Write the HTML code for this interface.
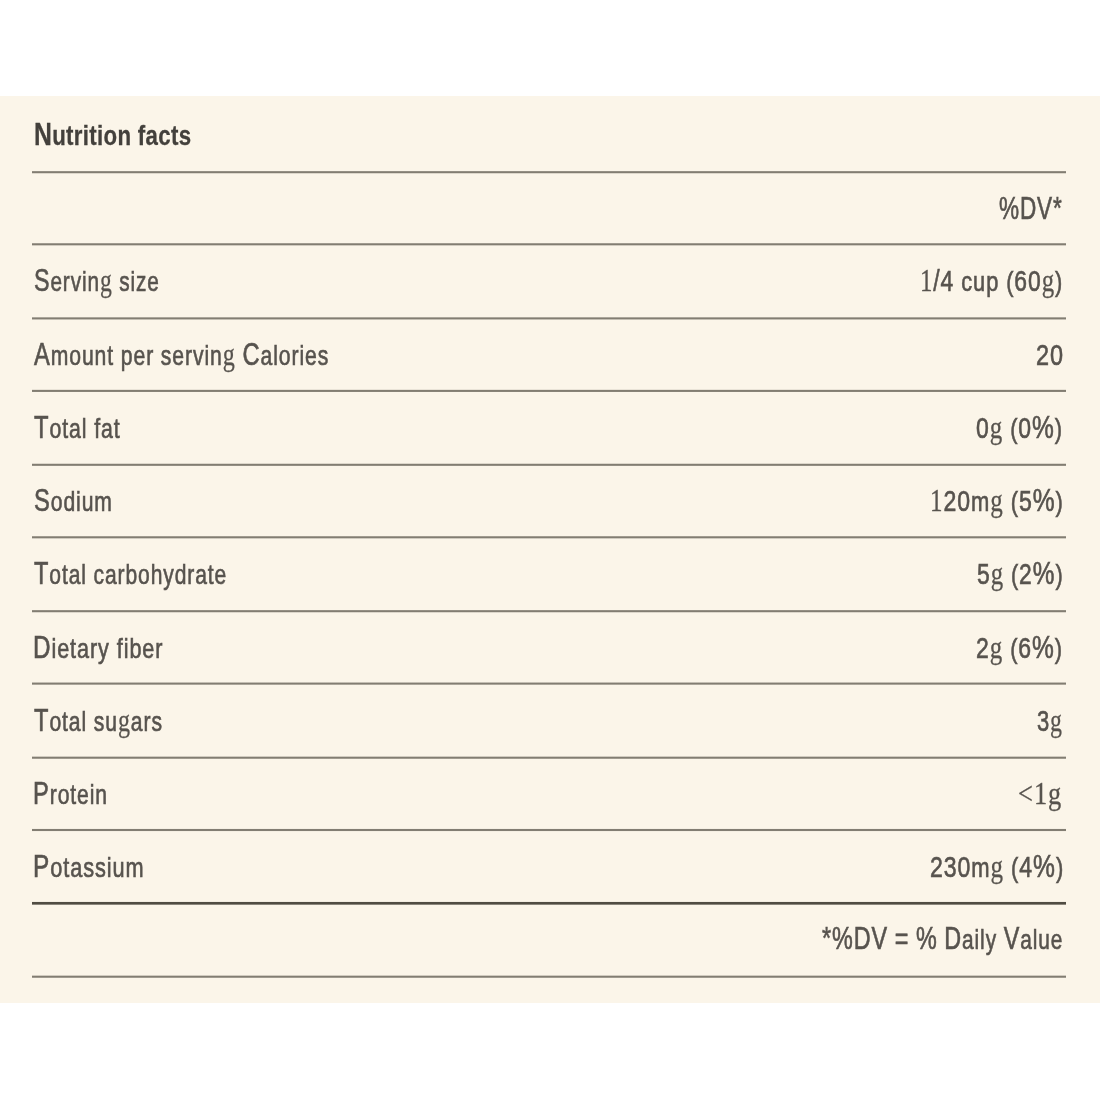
<!DOCTYPE html>
<html lang="en"><head><meta charset="utf-8"><title>Nutrition facts</title>
<style>
html,body{margin:0;padding:0;background:#fff;}
body{width:1100px;height:1100px;position:relative;overflow:hidden;}
.panel{position:absolute;left:0;top:96px;width:1100px;height:907px;background:#fbf5e9;}
.t{position:absolute;white-space:pre;font-family:"Liberation Sans",Arial,sans-serif;font-size:28.1px;line-height:40px;color:#57534e;-webkit-text-stroke:0.65px #57534e;transform-origin:0 0;filter:blur(0.4px);}
.t.b{font-weight:bold;font-size:28.3px;color:#43403c;-webkit-text-stroke:0.3px #43403c;}
.t span{line-height:0;}
.t .c{font-size:31.5px;}
.t .d{font-size:29.5px;}
.t .s{font-family:"Liberation Serif",serif;font-size:32.0px;-webkit-text-stroke-width:0.3px;}
.t.b .s{font-family:"Liberation Sans",Arial,sans-serif;font-size:28.3px;-webkit-text-stroke-width:0.3px;}
.r{position:absolute;left:32px;width:1034px;}
</style></head><body>
<div class="panel"></div>
<div class="r" style="top:171px;height:3px;background:linear-gradient(rgba(130,125,114,0.85) 0px 1px, rgba(130,125,114,1.00) 1px 2px, rgba(130,125,114,0.25) 2px 3px)"></div>
<div class="r" style="top:243px;height:3px;background:linear-gradient(rgba(130,125,114,0.75) 0px 1px, rgba(130,125,114,1.00) 1px 2px, rgba(130,125,114,0.35) 2px 3px)"></div>
<div class="r" style="top:317px;height:3px;background:linear-gradient(rgba(130,125,114,0.65) 0px 1px, rgba(130,125,114,1.00) 1px 2px, rgba(130,125,114,0.45) 2px 3px)"></div>
<div class="r" style="top:389px;height:3px;background:linear-gradient(rgba(130,125,114,0.15) 0px 1px, rgba(130,125,114,1.00) 1px 2px, rgba(130,125,114,0.95) 2px 3px)"></div>
<div class="r" style="top:463px;height:3px;background:linear-gradient(rgba(130,125,114,0.25) 0px 1px, rgba(130,125,114,1.00) 1px 2px, rgba(130,125,114,0.85) 2px 3px)"></div>
<div class="r" style="top:536px;height:3px;background:linear-gradient(rgba(130,125,114,0.75) 0px 1px, rgba(130,125,114,1.00) 1px 2px, rgba(130,125,114,0.35) 2px 3px)"></div>
<div class="r" style="top:610px;height:3px;background:linear-gradient(rgba(130,125,114,0.85) 0px 1px, rgba(130,125,114,1.00) 1px 2px, rgba(130,125,114,0.25) 2px 3px)"></div>
<div class="r" style="top:682px;height:3px;background:linear-gradient(rgba(130,125,114,0.45) 0px 1px, rgba(130,125,114,1.00) 1px 2px, rgba(130,125,114,0.65) 2px 3px)"></div>
<div class="r" style="top:756px;height:3px;background:linear-gradient(rgba(130,125,114,0.35) 0px 1px, rgba(130,125,114,1.00) 1px 2px, rgba(130,125,114,0.75) 2px 3px)"></div>
<div class="r" style="top:828px;height:4px;background:linear-gradient(rgba(130,125,114,0.05) 0px 1px, rgba(130,125,114,1.00) 1px 2px, rgba(130,125,114,1.00) 2px 3px, rgba(130,125,114,0.05) 3px 4px)"></div>
<div class="r" style="top:901px;height:4px;background:linear-gradient(rgba(80,76,66,0.05) 0px 1px, rgba(80,76,66,1.00) 1px 2px, rgba(80,76,66,1.00) 2px 3px, rgba(80,76,66,0.65) 3px 4px)"></div>
<div class="r" style="top:975px;height:3px;background:linear-gradient(rgba(130,125,114,0.35) 0px 1px, rgba(130,125,114,1.00) 1px 2px, rgba(130,125,114,0.75) 2px 3px)"></div>
<div class="t b" style="left:33.83px;top:114.50px;letter-spacing:0.4px;transform:scaleX(0.7864)"><span class="c">N</span>utrition facts</div>
<div class="t" style="left:998.58px;top:189.70px;letter-spacing:1.2px;transform:scaleX(0.7171)"><span class="c">%DV*</span></div>
<div class="t" style="left:33.66px;top:261.60px;letter-spacing:1.2px;transform:scaleX(0.7392)"><span class="c">S</span>ervin<span class="s">g</span> size</div>
<div class="t" style="left:919.77px;top:261.60px;letter-spacing:1.2px;transform:scaleX(0.7754)"><span class="s">1</span><span class="d">/4</span> cup (<span class="d">60</span><span class="s">g</span>)</div>
<div class="t" style="left:34.00px;top:336.00px;letter-spacing:1.2px;transform:scaleX(0.7529)"><span class="c">A</span>mount per servin<span class="s">g</span> <span class="c">C</span>alories</div>
<div class="t" style="left:1036.40px;top:336.00px;letter-spacing:1.2px;transform:scaleX(0.7950)"><span class="d">20</span></div>
<div class="t" style="left:34.00px;top:408.50px;letter-spacing:1.2px;transform:scaleX(0.7570)"><span class="c">T</span>otal fat</div>
<div class="t" style="left:976.42px;top:408.50px;letter-spacing:1.2px;transform:scaleX(0.7791)"><span class="d">0</span><span class="s">g</span> (<span class="d">0</span><span class="c">%</span>)</div>
<div class="t" style="left:33.65px;top:482.40px;letter-spacing:1.2px;transform:scaleX(0.7525)"><span class="c">S</span>odium</div>
<div class="t" style="left:929.56px;top:482.40px;letter-spacing:1.2px;transform:scaleX(0.7817)"><span class="s">1</span><span class="d">20</span>m<span class="s">g</span> (<span class="d">5</span><span class="c">%</span>)</div>
<div class="t" style="left:34.40px;top:554.60px;letter-spacing:1.2px;transform:scaleX(0.7488)"><span class="c">T</span>otal carbohydrate</div>
<div class="t" style="left:976.93px;top:554.60px;letter-spacing:1.2px;transform:scaleX(0.7745)"><span class="d">5</span><span class="s">g</span> (<span class="d">2</span><span class="c">%</span>)</div>
<div class="t" style="left:32.86px;top:628.80px;letter-spacing:1.2px;transform:scaleX(0.7692)"><span class="c">D</span>ietary fiber</div>
<div class="t" style="left:976.42px;top:628.80px;letter-spacing:1.2px;transform:scaleX(0.7791)"><span class="d">2</span><span class="s">g</span> (<span class="d">6</span><span class="c">%</span>)</div>
<div class="t" style="left:34.40px;top:701.50px;letter-spacing:1.2px;transform:scaleX(0.7518)"><span class="c">T</span>otal su<span class="s">g</span>ars</div>
<div class="t" style="left:1036.75px;top:701.50px;letter-spacing:1.2px;transform:scaleX(0.7453)"><span class="d">3</span><span class="s">g</span></div>
<div class="t" style="left:32.90px;top:775.30px;letter-spacing:1.2px;transform:scaleX(0.7521)"><span class="c">P</span>rotein</div>
<div class="t" style="left:1018.28px;top:775.30px;letter-spacing:1.2px;transform:scaleX(0.8249)"><span class="s">&lt;1g</span></div>
<div class="t" style="left:32.85px;top:847.90px;letter-spacing:1.2px;transform:scaleX(0.7736)"><span class="c">P</span>otassium</div>
<div class="t" style="left:929.52px;top:847.90px;letter-spacing:1.2px;transform:scaleX(0.7819)"><span class="d">230</span>m<span class="s">g</span> (<span class="d">4</span><span class="c">%</span>)</div>
<div class="t" style="left:822.40px;top:919.90px;letter-spacing:1.2px;transform:scaleX(0.7426)"><span class="c">*%DV</span> <span class="c">=</span> <span class="c">%</span> <span class="c">D</span>aily <span class="c">V</span>alue</div>
</body></html>
